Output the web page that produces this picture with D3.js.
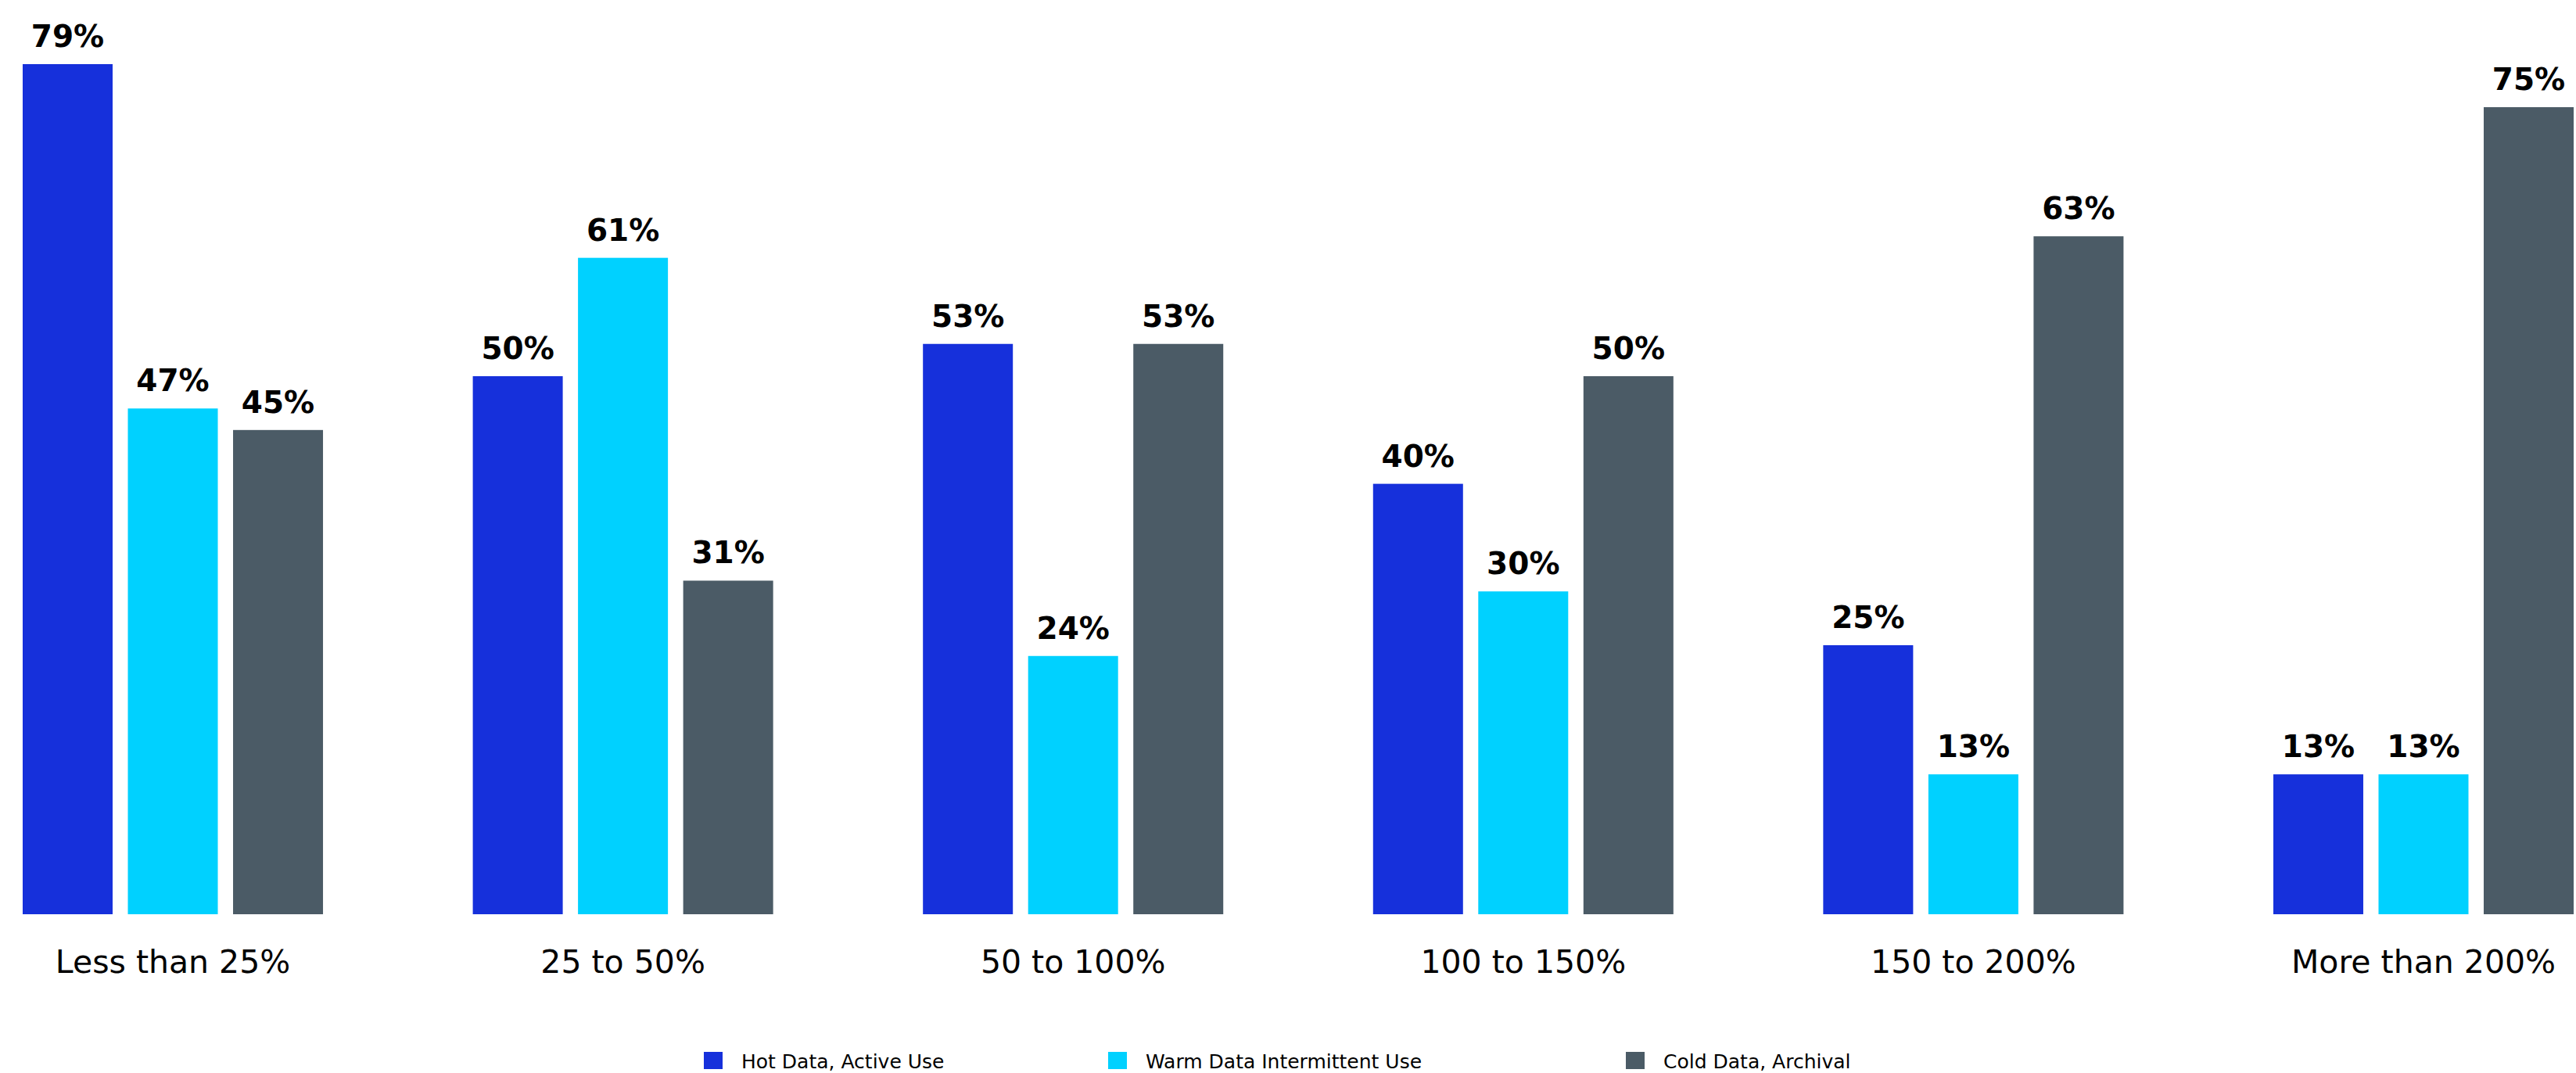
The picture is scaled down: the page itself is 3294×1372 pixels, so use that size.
<!DOCTYPE html>
<html>
<head>
<meta charset="utf-8">
<script src="https://cdn.jsdelivr.net/npm/d3@7"></script>
<style>
  html, body { margin: 0; padding: 0; background: #fff; }
  svg { display: block; }
</style>
</head>
<body>
<div id="chart"></div>
<script>
var categories = ['Less than 25%', '25 to 50%', '50 to 100%', '100 to 150%', '150 to 200%', 'More than 200%'];
var series_names = ['Hot Data, Active Use', 'Warm Data Intermittent Use', 'Cold Data, Archival'];
var hot_values = [79, 50, 53, 40, 25, 13];
var warm_values = [47, 61, 24, 30, 13, 13];
var cold_values = [45, 31, 53, 50, 63, 75];
var series_colors = ['#1630db', '#00d1ff', '#4b5b66'];

(function (d3) {
  var WIDTH = 3294;
  var HEIGHT = 1372;
  var BASELINE = 1169;
  var FONT = '"DejaVu Sans", sans-serif';

  var series_values = [hot_values, warm_values, cold_values];

  var svg = d3.select('#chart').append('svg')
      .attr('width', WIDTH)
      .attr('height', HEIGHT);

  var x_group = d3.scaleBand()
      .domain(categories)
      .range([29, 3291])
      .paddingInner(0.3328)
      .paddingOuter(0);

  var x_bar = d3.scaleBand()
      .domain(series_names)
      .range([0, x_group.bandwidth()])
      .paddingInner(0.145)
      .paddingOuter(0);

  var y = d3.scaleLinear()
      .domain([0, 79])
      .range([BASELINE, 82]);

  var color = d3.scaleOrdinal()
      .domain(series_names)
      .range(series_colors);

  var rows = [];
  categories.forEach(function (cat, i) {
    series_names.forEach(function (name, j) {
      rows.push({ category: cat, series: name, value: series_values[j][i] });
    });
  });

  var groups = svg.append('g').selectAll('g')
      .data(categories)
      .join('g')
      .attr('transform', function (d) { return 'translate(' + x_group(d) + ',0)'; });

  groups.selectAll('rect')
      .data(function (cat) { return rows.filter(function (r) { return r.category === cat; }); })
      .join('rect')
      .attr('x', function (d) { return x_bar(d.series); })
      .attr('y', function (d) { return y(d.value); })
      .attr('width', x_bar.bandwidth())
      .attr('height', function (d) { return BASELINE - y(d.value); })
      .attr('fill', function (d) { return color(d.series); });

  groups.selectAll('text.value')
      .data(function (cat) { return rows.filter(function (r) { return r.category === cat; }); })
      .join('text')
      .attr('class', 'value')
      .attr('x', function (d) { return x_bar(d.series) + x_bar.bandwidth() / 2; })
      .attr('y', function (d) { return y(d.value) - 22; })
      .attr('text-anchor', 'middle')
      .style('font-family', FONT)
      .style('font-weight', 'bold')
      .style('font-size', '39px')
      .style('fill', '#000')
      .text(function (d) { return d.value + '%'; });

  // category axis, no line or ticks
  var x_axis = svg.append('g')
      .attr('transform', 'translate(0,' + BASELINE + ')')
      .call(d3.axisBottom(x_group).tickSize(0).tickPadding(75));
  x_axis.select('.domain').remove();
  x_axis.selectAll('text')
      .style('font-family', FONT)
      .style('font-size', '41px')
      .style('fill', '#000')
      .attr('dy', 0);

  // legend
  var legend_x = [900, 1417, 2079];
  var legend = svg.append('g').selectAll('g')
      .data(series_names)
      .join('g')
      .attr('transform', function (d, i) { return 'translate(' + legend_x[i] + ',1345)'; });

  legend.append('rect')
      .attr('width', 24)
      .attr('height', 22)
      .attr('fill', function (d) { return color(d); });

  legend.append('text')
      .attr('x', 48)
      .attr('y', 21)
      .style('font-family', FONT)
      .style('font-size', '25px')
      .style('fill', '#000')
      .text(function (d) { return d; });
})(d3);
</script>
</body>
</html>
